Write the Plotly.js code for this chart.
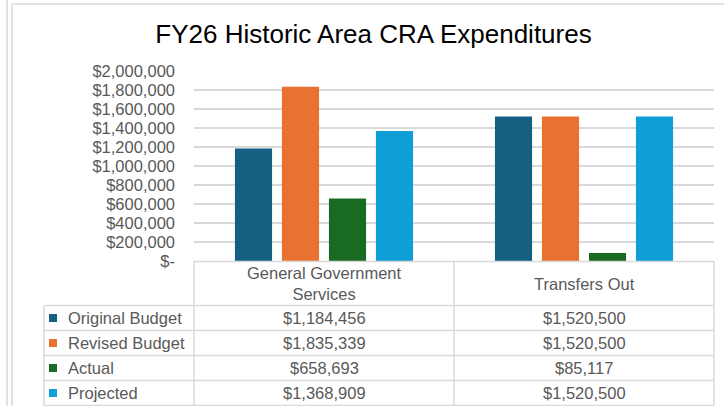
<!DOCTYPE html>
<html>
<head>
<meta charset="utf-8">
<script src="https://cdn.plot.ly/plotly-3.0.1.min.js"></script>
<style>
html,body{margin:0;padding:0;background:#fff;}
#chart{width:724px;height:406px;}
</style>
</head>
<body>
<div id="chart"></div>
<script>
// ---- data ----
const categories = ['General Government Services', 'Transfers Out'];
const headerLabels = ['General Government<br>Services', 'Transfers Out'];
const seriesNames = ['Original Budget', 'Revised Budget', 'Actual', 'Projected'];
const originalBudget = [1184456, 1520500];
const revisedBudget = [1835339, 1520500];
const actual = [658693, 85117];
const projected = [1368909, 1520500];
const yTickVals = [0, 200000, 400000, 600000, 800000, 1000000, 1200000, 1400000, 1600000, 1800000, 2000000];
const titleText = 'FY26 Historic Area CRA Expenditures';

// ---- styling ----
const colors = ['#156082', '#E97132', '#196B24', '#0F9ED5'];
const seriesValues = [originalBudget, revisedBudget, actual, projected];
const FONT = 'Liberation Sans, Arial, sans-serif';
const TXT = '#595959';
const LINE = '#d9d9d9';
const W = 724, H = 406;
const M = {l: 194, r: 10, t: 71, b: 145};
const PW = W - M.l - M.r, PH = H - M.t - M.b;
const px = x => (x - M.l) / PW;           // pixel x -> paper
const py = y => (H - M.b - y) / PH;       // pixel y -> paper

const fmt = v => '$' + v.toLocaleString('en-US');

const traces = seriesNames.map((name, i) => ({
  type: 'bar',
  name: name,
  x: categories,
  y: seriesValues[i],
  marker: {color: colors[i]},
  hoverinfo: 'skip'
}));

const shapes = [];
const annotations = [];
const line = (x0, y0, x1, y1) => shapes.push({
  type: 'line', xref: 'paper', yref: 'paper',
  x0: px(x0), y0: py(y0), x1: px(x1), y1: py(y1),
  line: {color: LINE, width: 1.5}
});

// outer frame
line(7, 0, 7, 406);
line(12, 4, 730, 4);
line(12, 4, 12, 406);

// table
const tableTop = 261.5, headerBottom = 305.5, rowH = 25;
const xLeft = 44, xCol1 = 194, xCol2 = 454, xRight = 714;
line(xCol1, tableTop, xRight, tableTop);
line(xLeft, headerBottom, xRight, headerBottom);
for (let r = 1; r <= seriesNames.length; r++) {
  line(xLeft, headerBottom + r * rowH, xRight, headerBottom + r * rowH);
}
const tableBottom = headerBottom + seriesNames.length * rowH;
line(xLeft, headerBottom, xLeft, tableBottom);
line(xCol1, tableTop, xCol1, tableBottom);
line(xCol2, tableTop, xCol2, tableBottom);
line(xRight, tableTop, xRight, tableBottom);

// header labels
categories.forEach((c, j) => {
  annotations.push({
    xref: 'x', yref: 'paper', x: c, y: py((tableTop + headerBottom) / 2),
    text: headerLabels[j], showarrow: false, xanchor: 'center', yanchor: 'middle',
    font: {family: FONT, size: 16.5, color: TXT}
  });
});

// rows
seriesNames.forEach((name, i) => {
  const yc = headerBottom + rowH * i + rowH / 2;
  shapes.push({
    type: 'rect', xref: 'paper', yref: 'paper',
    x0: px(49), x1: px(57), y0: py(yc - 4), y1: py(yc + 4),
    fillcolor: colors[i], line: {width: 0}
  });
  annotations.push({
    xref: 'paper', yref: 'paper', x: px(66), y: py(yc),
    text: name, showarrow: false, xanchor: 'left', yanchor: 'middle',
    font: {family: FONT, size: 16.5, color: TXT}
  });
  categories.forEach((c, j) => {
    annotations.push({
      xref: 'x', yref: 'paper', x: c, y: py(yc),
      text: fmt(seriesValues[i][j]), showarrow: false, xanchor: 'center', yanchor: 'middle',
      font: {family: FONT, size: 16.5, color: TXT}
    });
  });
});

const layout = {
  width: W, height: H,
  margin: M,
  paper_bgcolor: '#fff', plot_bgcolor: '#fff',
  showlegend: false,
  barmode: 'group',
  bargap: 0.277,
  bargroupgap: 0.21,
  title: {
    text: titleText,
    font: {family: FONT, size: 26, color: '#000'},
    xref: 'container', x: 373.5 / W, xanchor: 'center',
    yref: 'container', y: 1 - 33.5 / H, yanchor: 'middle'
  },
  xaxis: {
    range: [-0.5, 1.5],
    showticklabels: false, showgrid: false, zeroline: false, showline: false, ticks: '',
    fixedrange: true
  },
  yaxis: {
    range: [0, 2000000],
    tickvals: yTickVals,
    ticktext: yTickVals.map(v => v === 0 ? '$-' : fmt(v)),
    tickfont: {family: FONT, size: 16.5, color: TXT},
    showgrid: true, gridcolor: LINE, gridwidth: 1.5,
    zeroline: false, showline: false, ticks: '',
    ticklabelstandoff: 18,
    fixedrange: true
  },
  shapes: shapes,
  annotations: annotations
};

Plotly.newPlot('chart', traces, layout, {staticPlot: true, displayModeBar: false});
</script>
</body>
</html>
